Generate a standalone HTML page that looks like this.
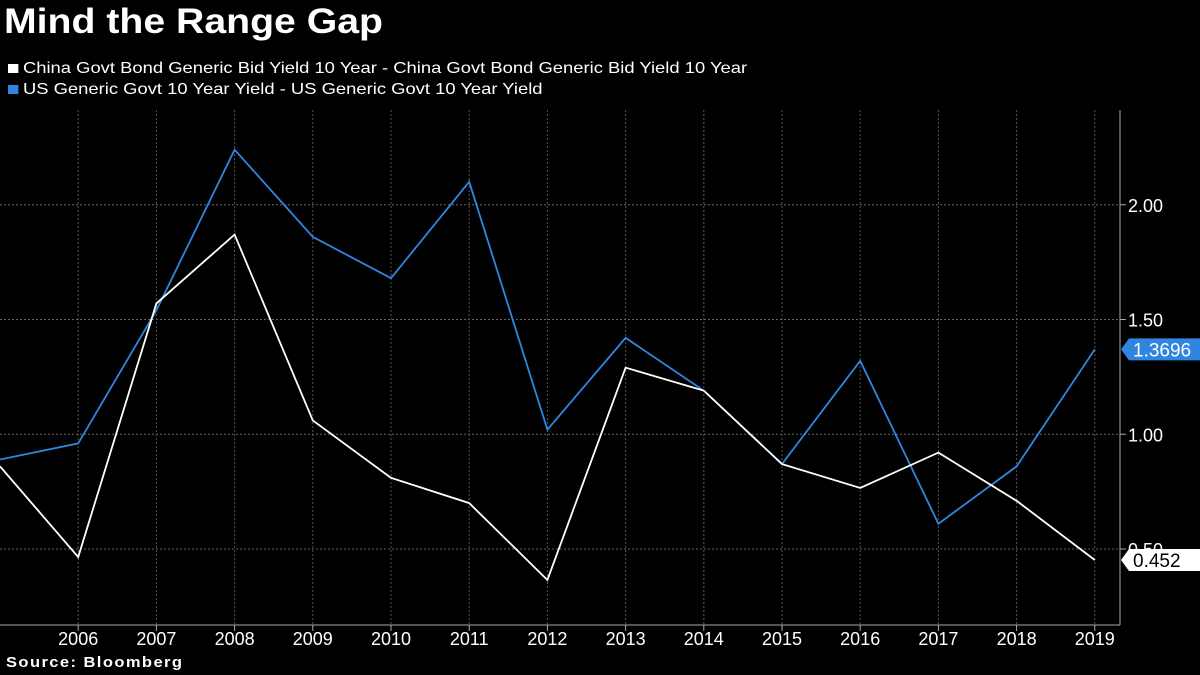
<!DOCTYPE html>
<html><head><meta charset="utf-8"><style>
body{margin:0;background:#000;width:1200px;height:675px;overflow:hidden;font-family:"Liberation Sans",sans-serif;color:#fff}
#title{position:absolute;left:4px;top:2px;font-size:35px;font-weight:bold;transform:scaleX(1.12);transform-origin:left top;white-space:nowrap}
.leg{position:absolute;left:8px;font-size:16px;white-space:nowrap;transform:scaleX(1.15);transform-origin:left top}
.sw{display:inline-block;width:9px;height:9px;margin-right:4px}
#src{position:absolute;left:6px;top:654px;font-size:15px;font-weight:bold;letter-spacing:1.3px;transform:scaleX(1.1);transform-origin:left top;white-space:nowrap}
svg{position:absolute;left:0;top:0}
</style></head><body>
<div id="title">Mind the Range Gap</div>
<div class="leg" style="top:60px"><span class="sw" style="background:#fff"></span>China Govt Bond Generic Bid Yield 10 Year - China Govt Bond Generic Bid Yield 10 Year</div>
<div class="leg" style="top:81px"><span class="sw" style="background:#2f86e0"></span>US Generic Govt 10 Year Yield - US Generic Govt 10 Year Yield</div>
<div id="src">Source: Bloomberg</div>
<svg id="chart" width="1200" height="675"></svg>
<script>
const years=[2005,2006,2007,2008,2009,2010,2011,2012,2013,2014,2015,2016,2017,2018,2019];
const china=[0.86,0.465,1.57,1.87,1.06,0.81,0.70,0.365,1.29,1.19,0.87,0.766,0.92,0.71,0.452];
const us=[0.89,0.96,1.54,2.24,1.86,1.68,2.10,1.02,1.42,1.19,0.87,1.32,0.61,0.86,1.3696];
const yTicks=[0.5,1.0,1.5,2.0];
const xLabels=[2006,2007,2008,2009,2010,2011,2012,2013,2014,2015,2016,2017,2018,2019];
const svg=document.getElementById('chart');const NS='http://www.w3.org/2000/svg';
const X=y=>(y-2005)*78.2; const Y=v=>549-(v-0.5)*229.5;
function mk(t,a){const e=document.createElementNS(NS,t);for(const k in a)e.setAttribute(k,a[k]);svg.appendChild(e);return e;}
yTicks.forEach(v=>{const l=mk('line',{x1:0,x2:1120,y1:Y(v),y2:Y(v),stroke:'#666','stroke-dasharray':'2,2'});

const t=mk('text',{x:1128,y:Y(v)+7,fill:'#fff','font-size':18});t.textContent=v.toFixed(2);

mk('line',{x1:1120,x2:1126,y1:Y(v),y2:Y(v),stroke:'#aaa'});});
xLabels.forEach(y=>{const l=mk('line',{x1:X(y),x2:X(y),y1:110,y2:625,stroke:'#555','stroke-dasharray':'2,2'});

mk('line',{x1:X(y),x2:X(y),y1:625,y2:631,stroke:'#aaa'});
const t=mk('text',{x:X(y),y:645,fill:'#fff','font-size':18,'text-anchor':'middle'});t.textContent=y;
});
mk('line',{x1:1120,x2:1120,y1:110,y2:625,stroke:'#aaa'});
mk('line',{x1:0,x2:1120,y1:625,y2:625,stroke:'#aaa'});
function line(d,c,n){const p=mk('polyline',{points:d.map((v,i)=>X(years[i])+','+Y(v)).join(' '),fill:'none',stroke:c,'stroke-width':1.8});
}
line(us,'#2f86e0','us-yield-line');line(china,'#ffffff','china-yield-line');
function tag(v,bg,fg,n){const y=Y(v);const p=mk('polygon',{points:`1121,${y} 1129,${y-11} 1200,${y-11} 1200,${y+11} 1129,${y+11}`,fill:bg});

const t=mk('text',{x:1133,y:y+7,fill:fg,'font-size':19});t.textContent=String(v);
}
tag(us[us.length-1],'#2f86e0','#fff','us-last-value-tag');tag(china[china.length-1],'#fff','#000','china-last-value-tag');
</script>
</body></html>
